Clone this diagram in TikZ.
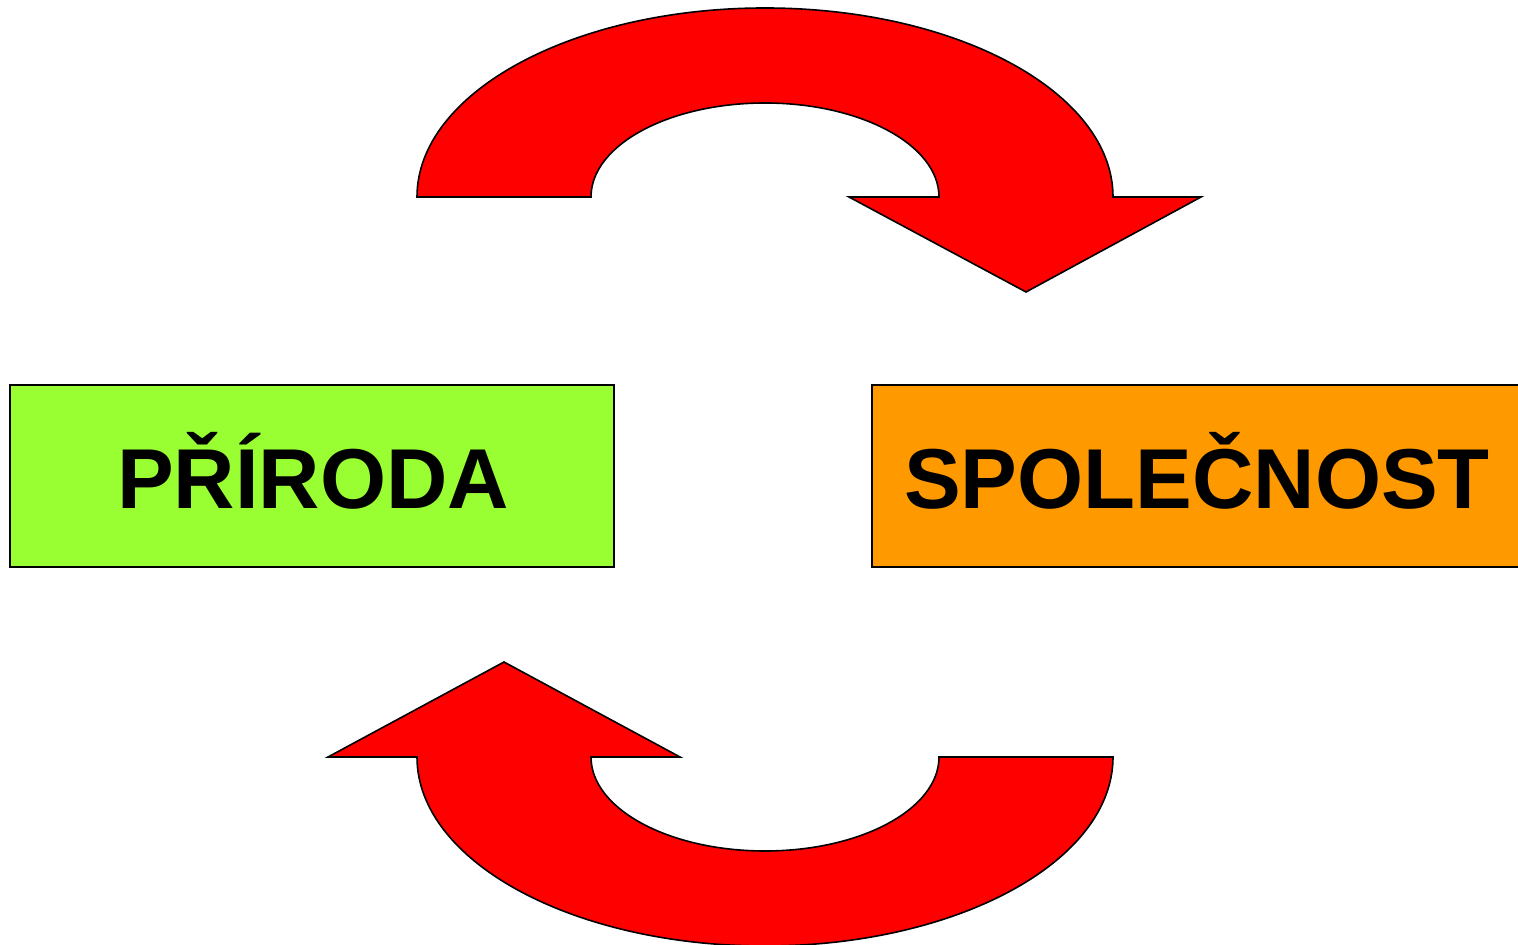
\documentclass[tikz,border=0pt]{standalone}
\usepackage{fontspec}
\setmainfont{Liberation Sans}
\begin{document}
\begin{tikzpicture}[x=1pt,y=1pt,
  box/.style={draw=black,line width=1.8pt,inner sep=0pt,anchor=south west},
  bigarrow/.style={draw=black,line width=1.6pt,fill=red,line join=miter},
  label/.style={font=\fontsize{85}{90}\selectfont\bfseries,inner sep=0pt,anchor=base}]
\clip (0,0) rectangle (1518,945);
\useasboundingbox (0,0) rectangle (1518,945);

% boxes (the right one runs past the page edge)
\node[box,fill={rgb,255:red,153;green,255;blue,51},minimum width=604pt,minimum height=182pt] (nature) at (9,377) {};
\node[box,fill={rgb,255:red,255;green,153;blue,0},minimum width=700pt,minimum height=182pt] (society) at (871,377) {};
\node[label] (natureText) at (313,436) {PŘÍRODA};
\node[label] (societyText) at (1197,436) {SPOLEČNOST};

% upper curved arrow, pointing down to the right
\draw[bigarrow] (417,748) arc[start angle=180,end angle=0,x radius=348,y radius=189]
  -- (1201,748) -- (1026,653) -- (849,748) -- (939,748)
  arc[start angle=0,end angle=180,x radius=174,y radius=94] -- cycle;

% lower curved arrow, pointing up to the left
\draw[bigarrow] (1113,188) arc[start angle=0,end angle=-180,x radius=348,y radius=189]
  -- (328,188) -- (504,283) -- (680,188) -- (591,188)
  arc[start angle=180,end angle=360,x radius=174,y radius=94] -- cycle;
\end{tikzpicture}
\end{document}
